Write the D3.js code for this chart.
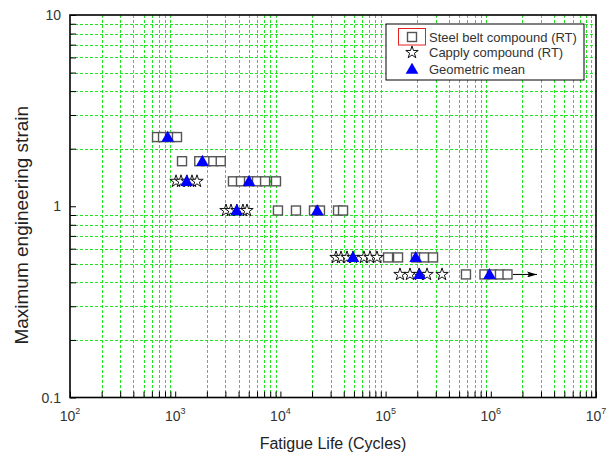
<!DOCTYPE html>
<html>
<head>
<meta charset="utf-8">
<script src="https://cdn.jsdelivr.net/npm/d3@7"></script>
<style>
  html, body { margin: 0; padding: 0; background: #fff; }
  svg { display: block; font-family: "Liberation Sans", Arial, sans-serif; }
</style>
</head>
<body>
<svg id="chart" width="613" height="460"></svg>
<script>
// Fatigue life [cycles, max engineering strain]
const steelBelt = [
  [672, 2.3], [766, 2.3], [893, 2.3], [1040, 2.3],
  [1161, 1.72], [1693, 1.72], [1963, 1.72], [2303, 1.72], [2709, 1.72],
  [3540, 1.35], [4220, 1.35], [5030, 1.35], [6000, 1.35], [7150, 1.35], [9080, 1.35],
  [9480, 0.95], [14060, 0.95], [20860, 0.95], [23770, 0.95], [35300, 0.95], [39400, 0.95],
  [105500, 0.54], [131300, 0.54], [194600, 0.54], [231800, 0.54], [282500, 0.54],
  [580600, 0.44], [871000, 0.44], [1026000, 0.44], [1222000, 0.44], [1441000, 0.44]
];
const capply = [
  [1019, 1.35], [1136, 1.35], [1294, 1.35], [1444, 1.35], [1611, 1.35],
  [3040, 0.95], [3390, 0.95], [3860, 0.95], [4400, 0.95], [4810, 0.95],
  [33800, 0.54], [37700, 0.54], [43000, 0.54], [49000, 0.54], [62300, 0.54], [71100, 0.54], [82800, 0.54],
  [137000, 0.44], [170600, 0.44], [207800, 0.44], [247800, 0.44], [343900, 0.44]
];
const geoMean = [
  [849, 2.3], [1813, 1.72], [1285, 1.35], [5030, 1.35], [3840, 0.95],
  [22430, 0.95], [49000, 0.54], [193300, 0.54], [210000, 0.44], [972000, 0.44]
];
// run-out (test stopped without failure)
const runout = [[1626000, 0.44], [2750000, 0.44]];

const xDecades = [2, 3, 4, 5, 6, 7];
const yTickLabels = ["0.1", "1", "10"];
const legendLabels = ["Steel belt compound (RT)", "Capply compound (RT)", "Geometric mean"];

const svg = d3.select("#chart");
const L = 70, R = 596, T = 15, B = 397.5;
const x = d3.scaleLog().domain([1e2, 1e7]).range([L, R]);
const y = d3.scaleLog().domain([0.1, 10]).range([B, T]);

const gridColor = "#22e622";
const textColor = "#333";

// minor values (2..9 in each decade)
const xMinor = [];
for (let e = 2; e < 7; e++) for (let m = 2; m <= 9; m++) xMinor.push(m * Math.pow(10, e));
const yMinor = [];
for (let e = -1; e < 1; e++) for (let m = 2; m <= 9; m++) yMinor.push(m * Math.pow(10, e));

// dashed minor grid
const grid = svg.append("g").attr("stroke", gridColor).attr("stroke-width", 1)
  .attr("stroke-dasharray", "3,2").attr("fill", "none");
grid.selectAll("line.vx").data(xMinor).join("line")
  .attr("x1", d => Math.round(x(d)) + 0.5).attr("x2", d => Math.round(x(d)) + 0.5)
  .attr("y1", T).attr("y2", B);
grid.selectAll("line.hy").data(yMinor).join("line")
  .attr("y1", d => Math.round(y(d)) + 0.5).attr("y2", d => Math.round(y(d)) + 0.5)
  .attr("x1", L).attr("x2", R);

// axes with inward ticks
const xAxis = d3.axisBottom(x).tickValues(xMinor.concat(xDecades.map(e => Math.pow(10, e))))
  .tickSize(-6).tickFormat("");
const gx = svg.append("g").attr("transform", `translate(0,${B})`).call(xAxis);
const yAxis = d3.axisLeft(y).tickValues(yMinor.concat([0.1, 1, 10]))
  .tickSize(-6).tickFormat("");
const gy = svg.append("g").attr("transform", `translate(${L},0)`).call(yAxis);
[gx, gy].forEach(g => {
  g.select(".domain").remove();
  g.selectAll(".tick line").attr("stroke", "#000").attr("stroke-width", 1);
});

// frame
svg.append("rect").attr("x", L).attr("y", T).attr("width", R - L).attr("height", B - T)
  .attr("fill", "none").attr("stroke", "#000").attr("stroke-width", 1.6);

// x tick labels 10^n
const xl = svg.append("g").attr("fill", textColor).attr("font-size", 14);
xDecades.forEach(e => {
  const t = xl.append("text").attr("x", x(Math.pow(10, e))).attr("y", 421)
    .attr("text-anchor", "middle");
  t.append("tspan").text("10");
  t.append("tspan").attr("font-size", 9).attr("dy", -7).text(e);
});

// y tick labels
svg.append("g").attr("fill", textColor).attr("font-size", 14)
  .selectAll("text").data(yTickLabels).join("text")
  .attr("x", 61).attr("y", d => y(+d) + 5).attr("text-anchor", "end").text(d => d);

// axis titles
svg.append("text").attr("x", (L + R) / 2).attr("y", 449).attr("text-anchor", "middle")
  .attr("font-size", 16).attr("fill", "#222").text("Fatigue Life (Cycles)");
svg.append("text").attr("transform", `translate(28,${(T + B) / 2 + 19}) rotate(-90)`)
  .attr("text-anchor", "middle").attr("font-size", 19).attr("fill", "#222")
  .text("Maximum engineering strain");

// symbol generators
const starPath = d3.symbol().type(d3.symbolStar).size(48)();
const triPath = d3.symbol().type(d3.symbolTriangle).size(70)();

function drawSquares(g, data) {
  g.selectAll("rect").data(data).join("rect")
    .attr("x", d => x(d[0]) - 4.5).attr("y", d => y(d[1]) - 4.5)
    .attr("width", 9).attr("height", 9)
    .attr("fill", "#fff").attr("stroke", "#555").attr("stroke-width", 1.4);
}
function drawStars(g, data) {
  g.selectAll("path").data(data).join("path")
    .attr("d", starPath)
    .attr("transform", d => `translate(${x(d[0])},${y(d[1])})`)
    .attr("fill", "#fff").attr("stroke", "#111").attr("stroke-width", 1);
}
function drawTriangles(g, data) {
  g.selectAll("path").data(data).join("path")
    .attr("d", triPath)
    .attr("transform", d => `translate(${x(d[0])},${y(d[1]) + 1})`)
    .attr("fill", "#0000ff").attr("stroke", "none");
}

drawSquares(svg.append("g"), steelBelt);
drawStars(svg.append("g"), capply);

// run-out arrow
const defs = svg.append("defs");
defs.append("marker").attr("id", "arrowhead").attr("viewBox", "0 0 10 6")
  .attr("refX", 10).attr("refY", 3).attr("markerWidth", 10).attr("markerHeight", 6)
  .attr("markerUnits", "userSpaceOnUse").attr("orient", "auto")
  .append("path").attr("d", "M0,0 L10,3 L0,6 L2,3 Z").attr("fill", "#000");
svg.append("line")
  .attr("x1", x(runout[0][0])).attr("y1", y(runout[0][1]))
  .attr("x2", x(runout[1][0])).attr("y2", y(runout[1][1]))
  .attr("stroke", "#000").attr("stroke-width", 1).attr("marker-end", "url(#arrowhead)");

drawTriangles(svg.append("g"), geoMean);

// legend
const lg = svg.append("g");
lg.append("rect").attr("x", 386).attr("y", 24).attr("width", 198).attr("height", 56)
  .attr("fill", "#fff").attr("stroke", "#000").attr("stroke-width", 1);
const rowY = [37, 52.5, 69];
lg.append("rect").attr("x", 398.5).attr("y", 28.5).attr("width", 27).attr("height", 16.5)
  .attr("fill", "none").attr("stroke", "#e62020").attr("stroke-width", 1);
lg.append("rect").attr("x", 407.5).attr("y", rowY[0] - 4.5).attr("width", 9).attr("height", 9)
  .attr("fill", "#fff").attr("stroke", "#555").attr("stroke-width", 1.4);
lg.append("path").attr("d", starPath).attr("transform", `translate(412,${rowY[1]})`)
  .attr("fill", "#fff").attr("stroke", "#111").attr("stroke-width", 1);
lg.append("path").attr("d", triPath).attr("transform", `translate(412,${rowY[2] + 1})`)
  .attr("fill", "#0000ff");
lg.selectAll("text").data(legendLabels).join("text")
  .attr("x", 429).attr("y", (d, i) => rowY[i] + 4.5)
  .attr("font-size", 13).attr("fill", textColor).text(d => d);
</script>
</body>
</html>
